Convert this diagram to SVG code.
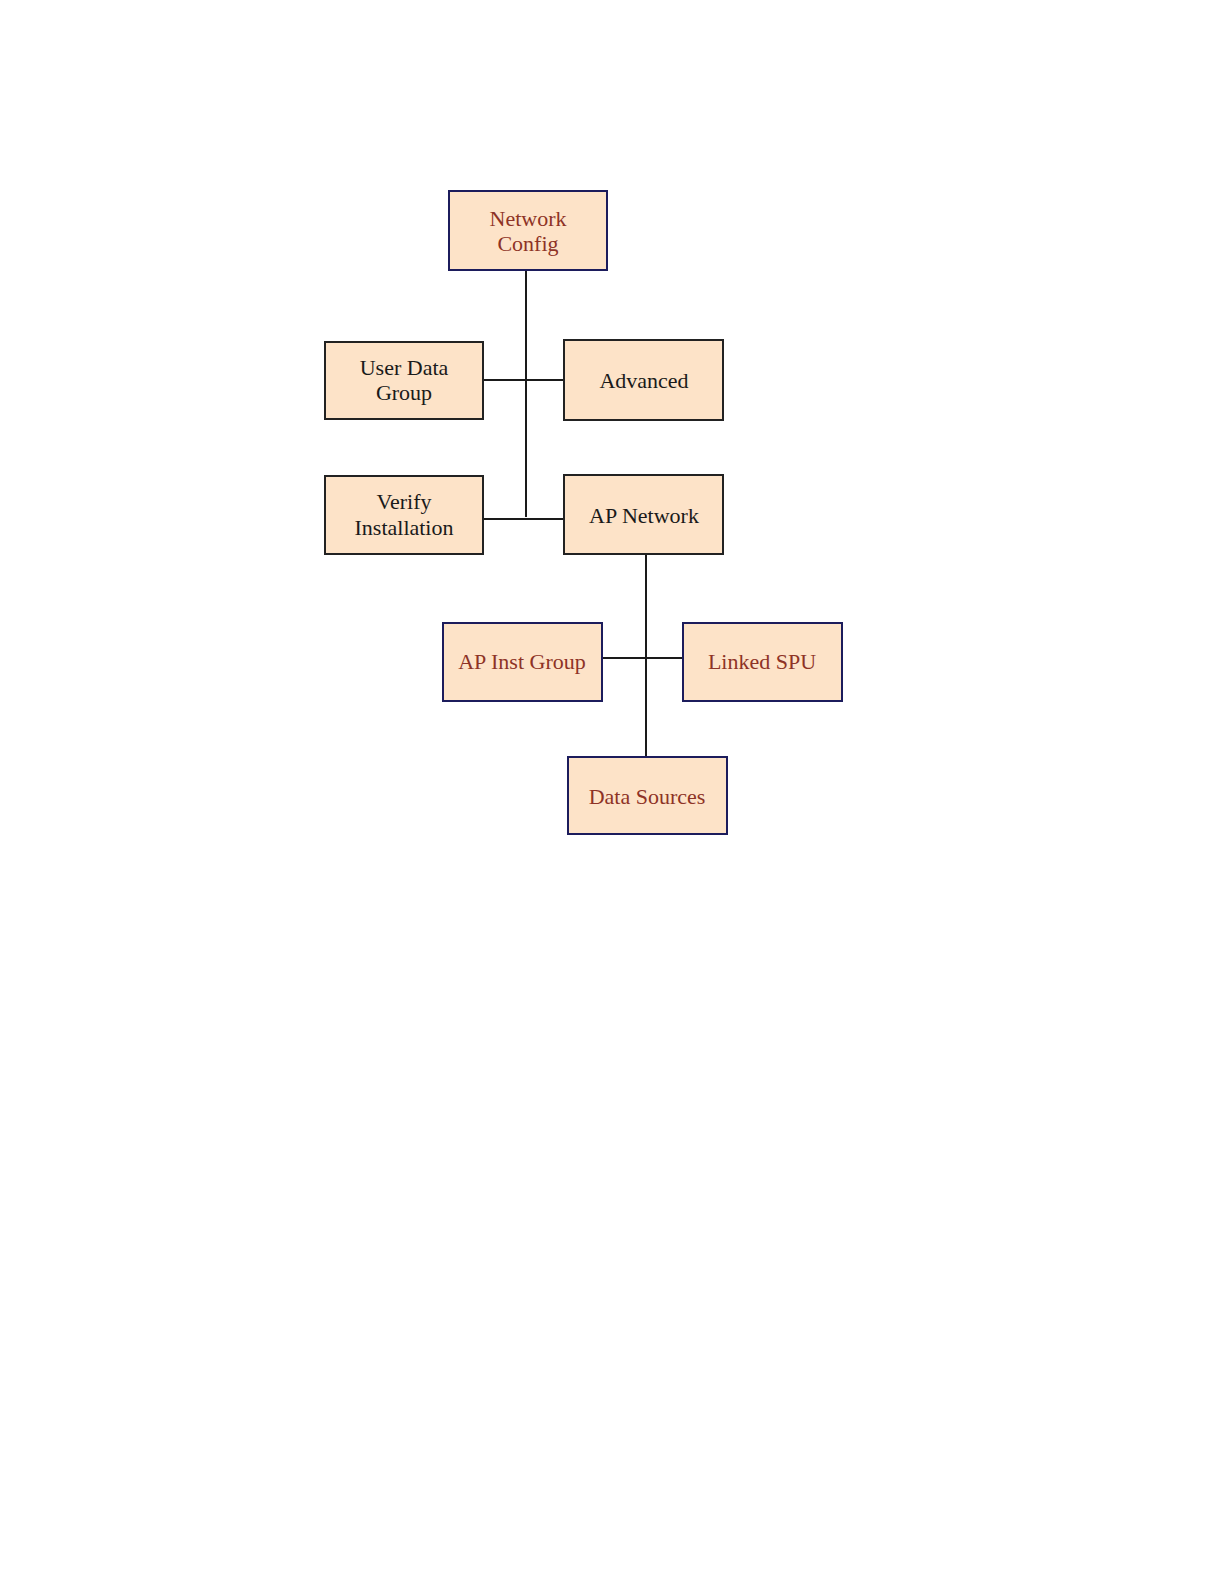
<svg xmlns="http://www.w3.org/2000/svg" width="1224" height="1584" viewBox="0 0 1224 1584">
<style>
.box{fill:#fde3c8;stroke-width:2}
.nb{stroke:#1c1c5c}
.kb{stroke:#222222}
.t{font-family:"Liberation Serif","Times New Roman",serif;font-size:22px;text-anchor:middle}
.red{fill:#8e3326}
.blk{fill:#1a1a1a}
.c{stroke:#1a1a1a;stroke-width:2;fill:none}
</style>
<rect width="1224" height="1584" fill="#ffffff"/>
<g id="connectors">
<line class="c" x1="526" y1="270" x2="526" y2="517"/>
<line class="c" x1="483" y1="380" x2="564" y2="380"/>
<line class="c" x1="483" y1="519" x2="564" y2="519"/>
<line class="c" x1="646" y1="554" x2="646" y2="757"/>
<line class="c" x1="602" y1="658" x2="683" y2="658"/>
</g>
<g id="network-config">
<rect class="box nb" x="449" y="191" width="158" height="79"/>
<text class="t red" x="528" y="226">Network</text>
<text class="t red" x="528" y="251">Config</text>
</g>
<g id="user-data-group">
<rect class="box kb" x="325" y="342" width="158" height="77"/>
<text class="t blk" x="404" y="375">User Data</text>
<text class="t blk" x="404" y="400">Group</text>
</g>
<g id="advanced">
<rect class="box kb" x="564" y="340" width="159" height="80"/>
<text class="t blk" x="644" y="388">Advanced</text>
</g>
<g id="verify-installation">
<rect class="box kb" x="325" y="476" width="158" height="78"/>
<text class="t blk" x="404" y="509">Verify</text>
<text class="t blk" x="404" y="535">Installation</text>
</g>
<g id="ap-network">
<rect class="box kb" x="564" y="475" width="159" height="79"/>
<text class="t blk" x="644" y="523">AP Network</text>
</g>
<g id="ap-inst-group">
<rect class="box nb" x="443" y="623" width="159" height="78"/>
<text class="t red" x="522" y="669">AP Inst Group</text>
</g>
<g id="linked-spu">
<rect class="box nb" x="683" y="623" width="159" height="78"/>
<text class="t red" x="762" y="669">Linked SPU</text>
</g>
<g id="data-sources">
<rect class="box nb" x="568" y="757" width="159" height="77"/>
<text class="t red" x="647" y="804">Data Sources</text>
</g>
</svg>
